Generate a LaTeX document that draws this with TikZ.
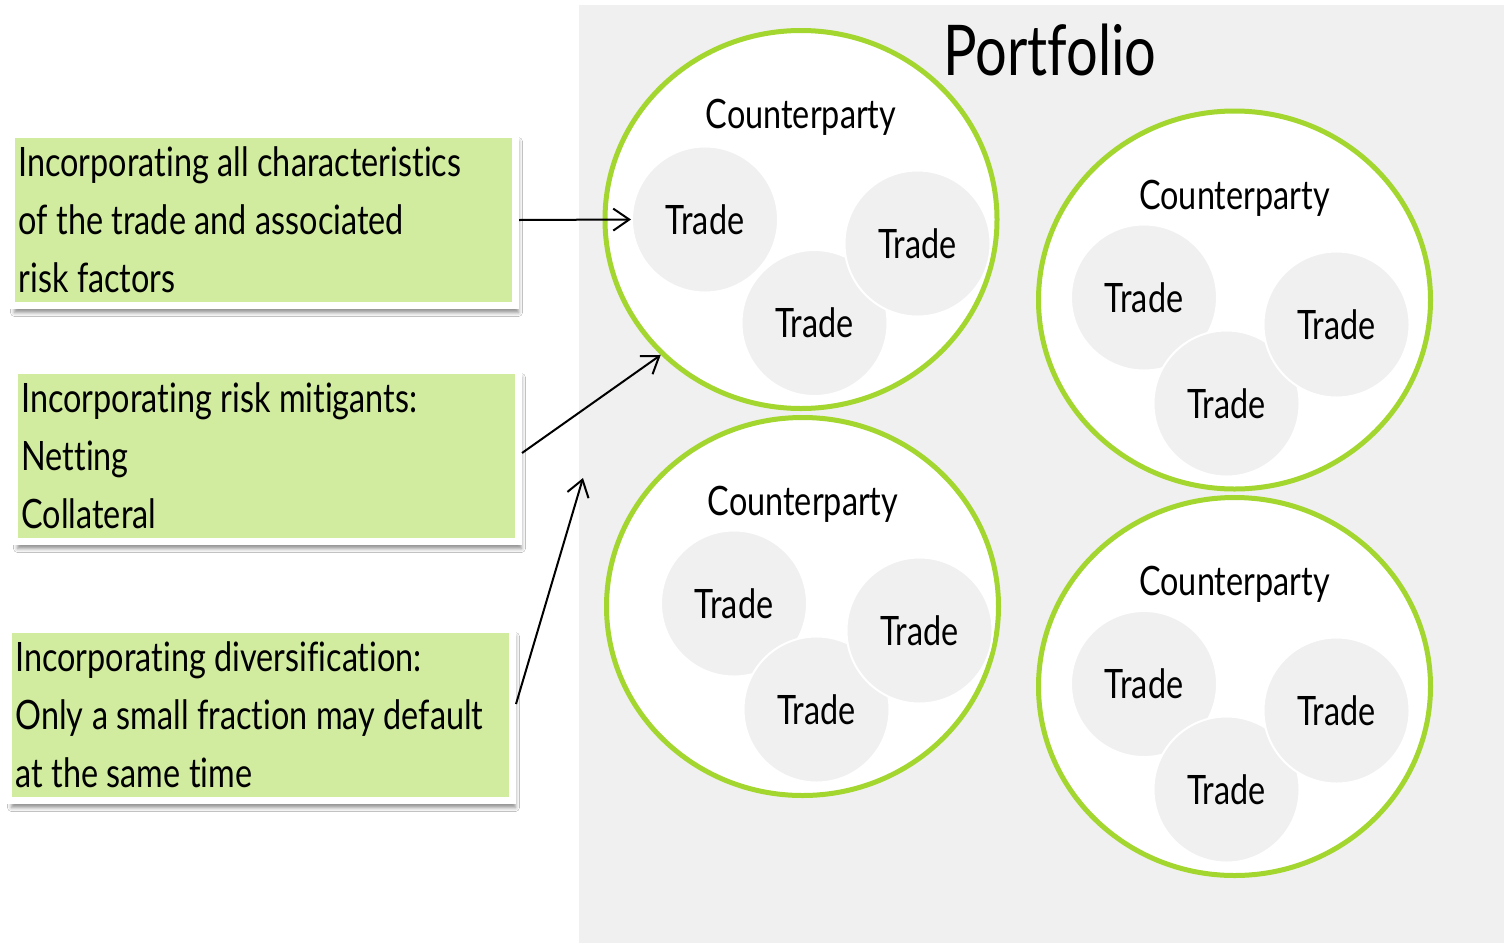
\documentclass[tikz,border=0pt]{standalone}
\usepackage{fontspec}
\setmainfont[FakeStretch=0.8, Ligatures={NoCommon}]{Lato}
\usetikzlibrary{shapes.geometric,arrows.meta,shadows.blur}
\definecolor{bggray}{RGB}{240,240,240}
\definecolor{cpgreen}{RGB}{163,214,46}
\definecolor{boxgreen}{RGB}{209,235,159}
\newcommand\myboxfont{\fontsize{40.5}{58}\selectfont}
\newcommand\myboxspacing{\spaceskip=8.5pt plus 2pt minus 1pt\relax \hyphenpenalty=10000\relax}
\tikzset{
  bg/.style={fill=bggray, draw=none},
  cparty/.style={ellipse, draw=cpgreen, line width=5pt, fill=white, minimum width=392pt, minimum height=378pt, inner sep=0pt},
  cplabel/.style={anchor=base, font=\fontsize{40.5}{48}\selectfont, inner sep=0pt},
  trade/.style={circle, fill=bggray, draw=white, line width=2pt, minimum size=146pt, inner sep=0pt, font=\fontsize{40.5}{48}\selectfont},
  infobox/.style={draw=white, line width=7pt, fill=boxgreen, minimum width=504pt, minimum height=171pt,
    inner xsep=7pt, inner ysep=0pt, text width=490pt, align=left,
    font=\myboxfont, execute at begin node=\myboxspacing,
    blur shadow={shadow xshift=3pt, shadow yshift=-7pt, shadow blur radius=4pt, shadow opacity=45}},
  title/.style={anchor=base, font=\fontsize{70}{84}\selectfont, inner sep=0pt},
  conn/.style={line width=2pt, -{Straight Barb[length=16pt,width=22pt,line width=2pt]}}
}
\begin{document}
\begin{tikzpicture}[x=1pt,y=-1pt]
\useasboundingbox (0,0) rectangle (1504,943);
\fill[white] (0,0) rectangle (1504,943);
\path[bg] (579,5) rectangle (1504,943);
\node[title] (portfolio) at (1050,75) {Portfolio};

% counterparties
\node[cparty] (cp1) at (801,219.5) {};
\node[cparty] (cp2) at (1234.5,300) {};
\node[cparty] (cp3) at (802.5,606.5) {};
\node[cparty] (cp4) at (1234.5,686.5) {};

\node[cplabel] (l1) at (801,128) {Counterparty};
\node[cplabel] (l2) at (1234.5,209) {Counterparty};
\node[cplabel] (l3) at (803,515) {Counterparty};
\node[cplabel] (l4) at (1234.5,595) {Counterparty};

% trades
\node[trade] (t1a) at (705,219.5) {Trade};
\node[trade] (t1c) at (814.5,323) {Trade};
\node[trade] (t1b) at (917.5,243.5) {Trade};

\node[trade] (t2a) at (1144,297.5) {Trade};
\node[trade] (t2c) at (1226.5,403.5) {Trade};
\node[trade] (t2b) at (1336.5,324.5) {Trade};

\node[trade] (t3a) at (734,603.5) {Trade};
\node[trade] (t3c) at (816.5,709.5) {Trade};
\node[trade] (t3b) at (919.5,630.5) {Trade};

\node[trade] (t4a) at (1144,684) {Trade};
\node[trade] (t4c) at (1226.5,789.5) {Trade};
\node[trade] (t4b) at (1336.5,710.5) {Trade};

% info boxes
\node[infobox] (b1) at (263.5,220) {Incorporating all characteristics\\of the trade and associated\\risk factors};
\node[infobox] (b2) at (266.5,456) {Incorporating risk mitigants:\\Netting\\Collateral};
\node[infobox] (b3) at (260.5,715) {Incorporating diversification:\\Only a small fraction may default\\at the same time};

\coordinate (free3) at (583,478);
\draw[conn] (b1.east) -- (t1a.west);
\draw[conn] ([yshift=3pt]b2.east) -- (cp1.224);
\draw[conn] ([yshift=11pt]b3.east) -- (free3);
\end{tikzpicture}
\end{document}
